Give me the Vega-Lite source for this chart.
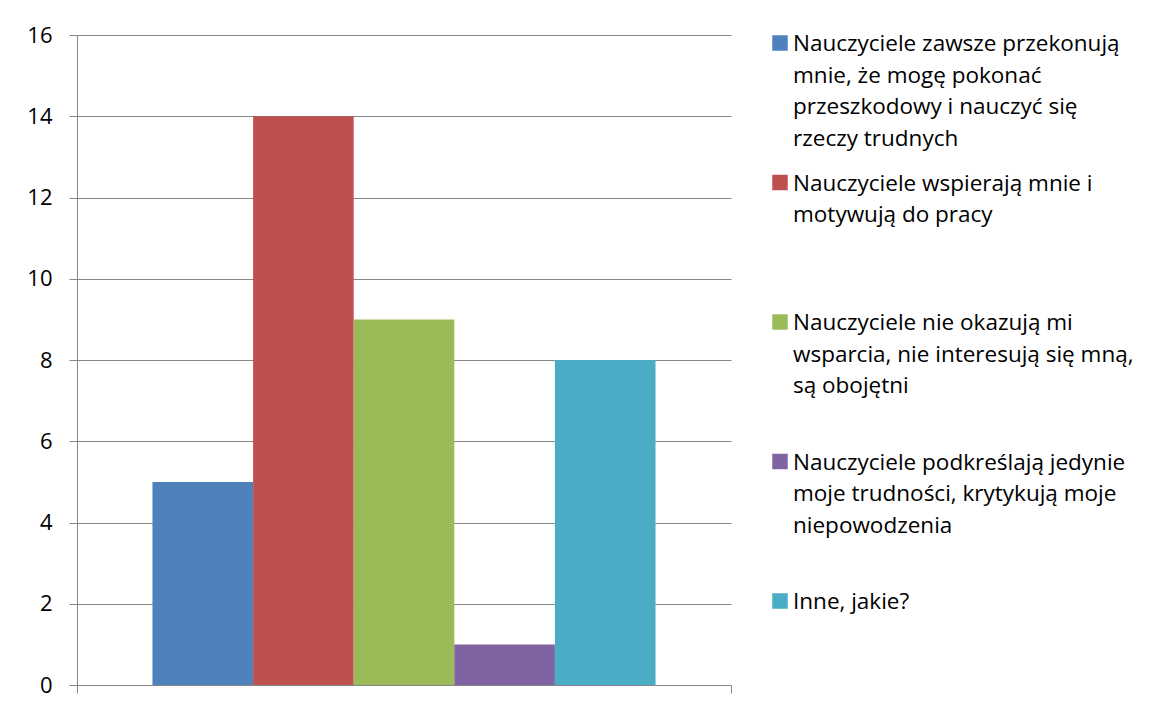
{
  "$schema": "https://vega.github.io/schema/vega-lite/v6.json",
  "background": "white",
  "padding": {"left": 26, "top": 24, "right": 0, "bottom": 0},
  "spacing": 40,
  "data": {
    "values": [
      {"category": "all", "order": 1, "count": 5, "series": "Nauczyciele zawsze przekonują mnie, że mogę pokonać przeszkodowy i nauczyć się rzeczy trudnych", "lines": "Nauczyciele zawsze przekonują|mnie, że mogę pokonać|przeszkodowy i nauczyć się|rzeczy trudnych"},
      {"category": "all", "order": 2, "count": 14, "series": "Nauczyciele wspierają mnie i motywują do pracy", "lines": "Nauczyciele wspierają mnie i|motywują do pracy"},
      {"category": "all", "order": 3, "count": 9, "series": "Nauczyciele nie okazują mi wsparcia, nie interesują się mną, są obojętni", "lines": "Nauczyciele nie okazują mi|wsparcia, nie interesują się mną,|są obojętni"},
      {"category": "all", "order": 4, "count": 1, "series": "Nauczyciele podkreślają jedynie moje trudności, krytykują moje niepowodzenia", "lines": "Nauczyciele podkreślają jedynie|moje trudności, krytykują moje|niepowodzenia"},
      {"category": "all", "order": 5, "count": 8, "series": "Inne, jakie?", "lines": "Inne, jakie?"}
    ]
  },
  "hconcat": [
    {
      "width": 654,
      "height": 650,
      "mark": {"type": "bar"},
      "encoding": {
        "x": {
          "field": "category", "type": "nominal",
          "scale": {"paddingInner": 0, "paddingOuter": 0},
          "axis": {"labels": false, "title": null, "grid": false, "tickBand": "extent", "tickSize": 8, "tickColor": "#868686", "domainColor": "#868686"}
        },
        "xOffset": {
          "field": "series", "type": "nominal",
          "sort": {"field": "order", "op": "min"},
          "scale": {"paddingInner": 0, "paddingOuter": 0.75}
        },
        "y": {
          "field": "count", "type": "quantitative",
          "scale": {"domain": [0, 16], "nice": false},
          "axis": {
            "values": [0, 2, 4, 6, 8, 10, 12, 14, 16],
            "title": null, "grid": true, "gridColor": "#868686", "gridOpacity": 1,
            "tickSize": 8, "tickColor": "#868686", "domainColor": "#868686",
            "labelPadding": 17, "labelFont": "Open Sans", "labelFontSize": 22, "labelColor": "#000000"
          }
        },
        "color": {
          "field": "series", "type": "nominal",
          "sort": {"field": "order", "op": "min"},
          "scale": {"range": ["#4F81BD", "#C0504D", "#9BBB59", "#8064A2", "#4BACC6"]},
          "legend": null
        }
      }
    },
    {
      "width": 397,
      "height": 650,
      "encoding": {
        "y": {
          "field": "series", "type": "nominal",
          "sort": {"field": "order", "op": "min"},
          "scale": {"type": "point", "range": [8, 566], "padding": 0},
          "axis": null
        }
      },
      "layer": [
        {
          "mark": {"type": "square", "size": 240, "filled": true, "opacity": 1},
          "encoding": {
            "x": {"value": 8},
            "color": {
              "field": "series", "type": "nominal",
              "sort": {"field": "order", "op": "min"},
              "scale": {"range": ["#4F81BD", "#C0504D", "#9BBB59", "#8064A2", "#4BACC6"]},
              "legend": null
            }
          }
        },
        {
          "mark": {"type": "text", "align": "left", "baseline": "top", "lineBreak": "|", "font": "Open Sans", "fontSize": 22.5, "lineHeight": 31.7, "dy": -10, "color": "#000000"},
          "encoding": {
            "x": {"value": 21},
            "text": {"field": "lines"}
          }
        }
      ]
    }
  ],
  "config": {"view": {"stroke": null}}
}
